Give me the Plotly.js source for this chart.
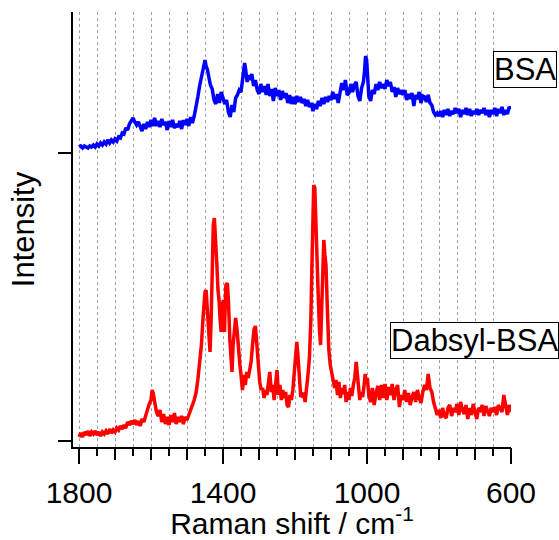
<!DOCTYPE html>
<html>
<head>
<meta charset="utf-8">
<script src="https://cdn.plot.ly/plotly-3.0.1.min.js"></script>
<style>html,body{margin:0;padding:0;background:#fff;}#chart{width:559px;height:540px;}</style>
</head>
<body>
<div id="chart"></div>
<script>
// Raman shift (cm^-1) and intensity (arb. units) for BSA
const bsaShift = [1800,1795,1790,1785,1780,1775,1770,1765,1760,1755,1750,1745,1740,1735,1730,1725,1720,1715,1710,1705,1700,1695,1690,1685,1680,1675,1670,1665,1660,1655,1650,1645,1640,1635,1630,1625,1620,1615,1610,1605,1600,1595,1590,1585,1580,1575,1570,1565,1560,1555,1550,1545,1540,1535,1530,1525,1520,1515,1510,1505,1500,1495,1490,1485,1480,1475,1470,1465,1460,1455,1450,1447,1443,1440,1435,1430,1425,1420,1415,1410,1405,1400,1395,1390,1385,1380,1375,1370,1365,1360,1355,1350,1345,1340,1337,1333,1330,1325,1320,1315,1310,1305,1300,1295,1290,1285,1280,1275,1270,1265,1260,1255,1250,1245,1240,1235,1230,1225,1220,1215,1210,1205,1200,1195,1190,1185,1180,1175,1170,1165,1160,1155,1150,1145,1140,1135,1130,1125,1120,1115,1110,1105,1100,1095,1090,1085,1080,1075,1070,1065,1060,1055,1050,1045,1040,1035,1030,1025,1020,1015,1010,1007,1004,1001,998,995,990,985,980,975,970,965,960,955,950,945,940,935,930,925,920,915,910,905,900,895,890,885,880,875,870,865,860,855,850,845,840,835,830,825,820,815,810,805,800,795,790,785,780,775,770,765,760,755,750,745,740,735,730,725,720,715,710,705,700,695,690,685,680,675,670,665,660,655,650,645,640,635,630,625,620,615,610,605,600];
const bsaIntensity = [6,7,5,7,6,5,7,6,8,6,9,7,10,8,11,9,13,10,13,11,14,12,16,15,20,19,25,23,29,32,35,31,28,31,25,22,29,24,31,26,33,27,35,27,32,26,34,28,31,23,32,26,33,25,29,26,32,24,33,28,34,27,36,30,37,45,56,67,76,83,93,87,83,77,68,64,53,49,59,50,61,55,49,53,41,36,48,41,55,58,63,61,75,90,83,71,78,73,79,67,73,63,59,69,61,67,58,69,57,64,52,65,57,63,53,62,55,60,50,58,49,56,49,57,51,56,50,54,47,53,46,50,42,49,44,52,47,55,49,56,51,57,53,61,54,59,50,63,70,63,73,58,60,69,61,68,71,57,52,65,71,81,97,93,73,57,52,63,59,69,63,71,65,69,64,73,67,71,61,66,56,65,59,63,58,63,53,59,54,60,47,58,54,61,50,57,56,51,58,50,48,41,38,40,37,42,36,43,38,44,37,42,39,45,40,44,36,43,39,45,38,44,37,42,39,44,38,43,40,45,38,43,36,43,39,45,37,44,40,46,38,43,39,46,44];

// Raman shift (cm^-1) and intensity (arb. units) for Dabsyl-BSA
const dabShift = [1800,1795,1790,1785,1780,1775,1770,1765,1760,1755,1750,1745,1740,1735,1730,1725,1720,1715,1710,1705,1700,1695,1690,1685,1680,1675,1670,1665,1660,1655,1650,1645,1640,1635,1630,1625,1620,1615,1610,1605,1600,1597,1594,1590,1585,1580,1575,1570,1565,1560,1555,1550,1545,1540,1535,1530,1525,1520,1515,1510,1505,1500,1495,1490,1485,1480,1475,1470,1465,1460,1455,1450,1447,1444,1440,1436,1433,1430,1427,1424,1420,1417,1414,1411,1408,1405,1402,1399,1396,1392,1388,1385,1381,1378,1375,1372,1368,1365,1361,1357,1353,1350,1346,1342,1338,1334,1330,1326,1322,1318,1314,1310,1306,1302,1298,1294,1290,1286,1282,1278,1274,1270,1266,1262,1258,1254,1250,1246,1242,1238,1234,1230,1226,1222,1218,1214,1210,1206,1202,1199,1195,1192,1188,1184,1180,1176,1172,1168,1164,1160,1156,1153,1150,1148,1145,1142,1139,1136,1132,1129,1126,1123,1120,1117,1114,1110,1106,1102,1098,1094,1090,1086,1082,1078,1074,1070,1066,1062,1058,1054,1050,1046,1042,1038,1034,1030,1027,1024,1020,1016,1012,1008,1005,1002,999,995,990,985,980,975,970,965,960,955,950,945,940,935,930,925,920,915,910,905,900,895,890,885,880,875,870,865,860,855,850,845,840,835,830,825,820,815,810,805,800,795,790,785,780,775,770,765,760,755,750,745,740,735,730,725,720,715,710,705,700,695,690,685,680,675,670,665,660,655,650,645,640,635,630,625,620,615,610,605,600];
const dabIntensity = [4,8,4,9,6,10,5,9,7,10,6,9,5,9,7,10,7,12,8,11,9,13,11,15,12,16,13,19,16,20,17,21,16,20,15,22,19,25,34,37,41,51,48,38,29,25,31,19,27,17,24,16,26,19,28,17,24,19,25,17,24,21,27,30,36,41,48,61,76,96,126,149,151,131,106,89,121,171,216,223,201,176,151,141,121,109,136,141,109,156,158,141,101,76,69,96,111,123,111,86,76,66,51,66,56,69,63,71,79,96,111,115,96,71,59,51,53,43,51,46,61,69,49,56,41,53,71,46,56,41,51,43,49,36,34,46,41,51,71,89,99,86,56,44,46,48,39,51,66,83,121,176,226,256,253,226,196,151,111,96,131,171,201,186,176,131,91,76,69,58,53,61,46,59,43,53,47,56,39,49,41,53,45,56,63,79,66,49,41,49,44,56,67,58,63,46,39,53,36,48,55,41,56,43,57,41,54,46,57,41,51,56,34,46,41,51,39,48,36,44,49,39,51,43,38,49,56,51,67,53,49,39,33,26,31,23,33,25,23,33,36,25,33,29,37,26,39,31,27,36,22,33,26,37,29,22,33,31,36,25,35,29,25,33,29,34,26,36,32,29,46,33,26,36,29];

const bsaOffset = 288;
const xTickLabels = [1800, 1400, 1000, 600];
const seriesNames = ['BSA', 'Dabsyl-BSA'];

const bsaShifted = bsaIntensity.map(v => v + bsaOffset);

const font = 'Arial, "Liberation Sans", sans-serif';
const xRange = [1816.7, 600];
const gridDash = '3px,3px';

const traces = [
  {x: bsaShift, y: bsaShifted, type: 'scatter', mode: 'lines', name: seriesNames[0],
   line: {color: '#0000ff', width: 3.5}, xaxis: 'x', yaxis: 'y'},
  {x: dabShift, y: dabIntensity, type: 'scatter', mode: 'lines', name: seriesNames[1],
   line: {color: '#ff0000', width: 3.5}, xaxis: 'x2', yaxis: 'y'}
];

const layout = {
  width: 559, height: 540,
  margin: {l: 73, r: 48, t: 12, b: 93},
  paper_bgcolor: '#fff', plot_bgcolor: '#fff',
  showlegend: false,
  font: {family: font, color: '#000'},
  xaxis: {
    range: xRange, tickmode: 'linear', tick0: 600, dtick: 100,
    ticks: 'outside', ticklen: 11, tickwidth: 2, tickcolor: '#000',
    showticklabels: false,
    showline: true, linewidth: 2, linecolor: '#000',
    showgrid: true, gridcolor: '#a0a0a0', gridwidth: 1, griddash: gridDash,
    zeroline: false,
    minor: {tickmode: 'linear', tick0: 600, dtick: 50, ticks: 'outside', ticklen: 7,
            tickwidth: 2, tickcolor: '#000', showgrid: true, gridcolor: '#a0a0a0',
            gridwidth: 1, griddash: gridDash}
  },
  xaxis2: {
    overlaying: 'x', anchor: 'y', side: 'bottom',
    range: xRange, tickmode: 'array', tickvals: xTickLabels,
    ticktext: xTickLabels.map(String),
    ticks: 'outside', ticklen: 16, tickwidth: 2, tickcolor: '#000',
    ticklabelstandoff: 3,
    tickfont: {size: 30, family: font, color: '#000'},
    showline: false, showgrid: false, zeroline: false,
    title: {text: 'Raman shift / cm<sup>-1</sup>', font: {size: 30, family: font, color: '#000'}, standoff: 16}
  },
  yaxis: {
    range: [-6, 429], tickmode: 'array', tickvals: [0, bsaOffset],
    ticks: 'outside', ticklen: 13, tickwidth: 2, tickcolor: '#000',
    showticklabels: false, showline: true, linewidth: 2, linecolor: '#000',
    showgrid: false, zeroline: false,
    title: {text: 'Intensity', font: {size: 31, family: font, color: '#000'}, standoff: 14}
  },
  annotations: [
    {xref: 'paper', yref: 'paper', x: 0.9589, y: 0.8667, xanchor: 'left', yanchor: 'middle',
     text: seriesNames[0], showarrow: false, font: {size: 31, family: font, color: '#000'},
     bgcolor: '#fff', bordercolor: '#000', borderwidth: 1, borderpad: 0},
    {xref: 'paper', yref: 'paper', x: 0.7237, y: 0.2437, xanchor: 'left', yanchor: 'middle',
     text: seriesNames[1], showarrow: false, font: {size: 31, family: font, color: '#000'},
     bgcolor: '#fff', bordercolor: '#000', borderwidth: 1, borderpad: 0}
  ]
};

Plotly.newPlot('chart', traces, layout, {staticPlot: true, displayModeBar: false});
</script>
</body>
</html>
